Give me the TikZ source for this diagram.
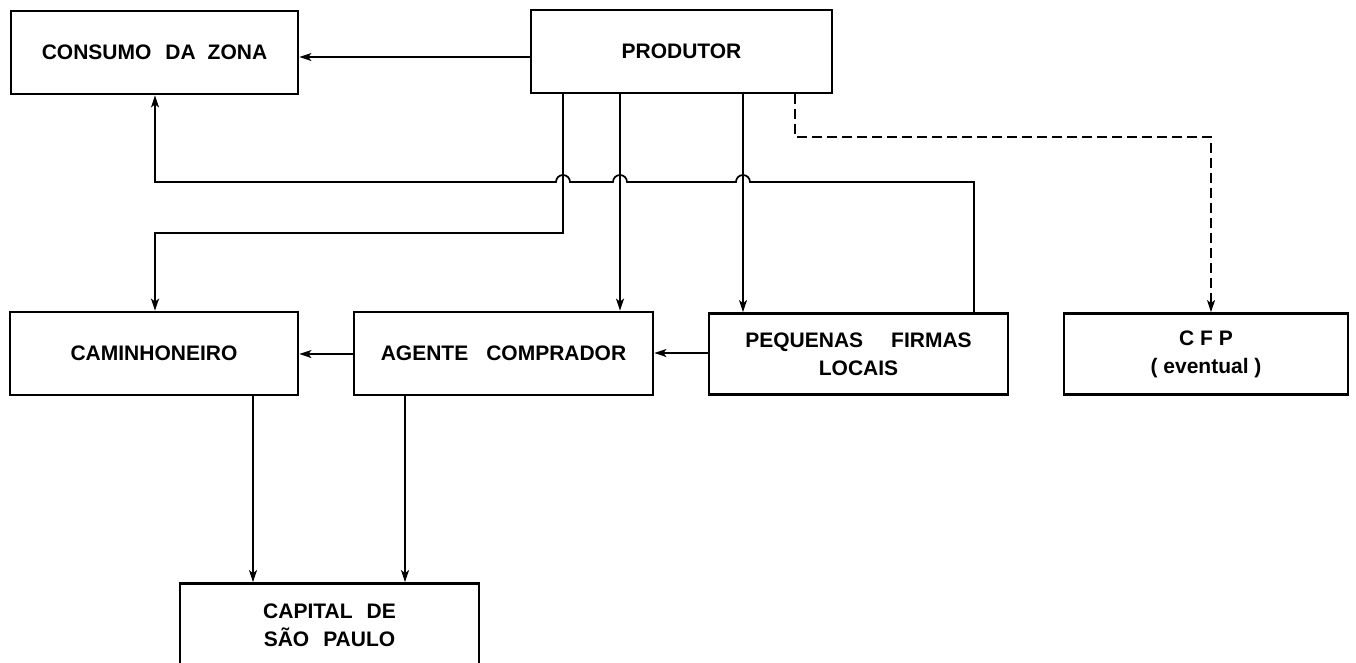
\documentclass[tikz,border=0pt]{standalone}
\usepackage{fontspec}
\setmainfont{Liberation Sans}
\usetikzlibrary{arrows.meta,calc}
\begin{document}
\begin{tikzpicture}[x=1pt,y=1pt,
  box/.style={draw, line width=2.8pt, minimum height=83pt, inner sep=0pt,
    font=\fontsize{21}{28}\selectfont\bfseries, align=center},
  conn/.style={line width=1.7pt, -{Stealth[length=12pt,width=8pt,inset=3pt]}},
  dashline/.style={dash pattern=on 10pt off 5pt},
]
\useasboundingbox (0,0) rectangle (1356,-662);
\node[box, minimum width=287pt] (cons) at (154.5,-52.5) {CONSUMO\hspace{14pt}DA\hspace{12pt}ZONA};
\node[box, minimum width=301pt] (prod) at (681.5,-51.5) {PRODUTOR};
\node[box, minimum width=288pt] (cam) at (154,-353.5) {CAMINHONEIRO};
\node[box, minimum width=299pt] (ag) at (503.5,-353.5) {AGENTE\hspace{18pt}COMPRADOR};
\node[box, minimum width=299pt, minimum height=81pt] (pfl) at (858.5,-354) {PEQUENAS\hspace{28pt}FIRMAS\\LOCAIS};
\node[box, minimum width=284pt, minimum height=81pt] (cfp) at (1206,-354) {C F P\\( eventual )};
\node[box, minimum width=299pt] (cap) at (329.5,-625) {CAPITAL\hspace{14pt}DE\\SÃO\hspace{14pt}PAULO};

% produtor -> consumo
\draw[conn] (prod.west |- 0,-57) -- (cons.east |- 0,-57);
% pequenas firmas -> consumo (return line with hops)
\draw[conn] (974,0 |- pfl.north) -- (974,-182) -- (750,-182)
  arc[start angle=0,end angle=180,radius=7] -- (627,-182)
  arc[start angle=0,end angle=180,radius=7] -- (570,-182)
  arc[start angle=0,end angle=180,radius=7] -- (155,-182)
  -- (155,0 |- cons.south);
% produtor -> caminhoneiro
\draw[conn] (563,0 |- prod.south) -- (563,-233) -- (155,-233) -- (155,0 |- cam.north);
% produtor -> agente
\draw[conn] (620,0 |- prod.south) -- (620,0 |- ag.north);
% produtor -> pequenas firmas
\draw[conn] (743,0 |- prod.south) -- (743,0 |- pfl.north);
% produtor -> cfp (dashed)
\draw[conn,dashline] (795,0 |- prod.south) -- (795,-137) -- (1211,-137) -- (1211,0 |- cfp.north);
% agente -> caminhoneiro
\draw[conn] (ag.west |- 0,-354) -- (cam.east |- 0,-354);
% pequenas -> agente
\draw[conn] (pfl.west |- 0,-353) -- (ag.east |- 0,-353);
% to capital
\draw[conn] (253,0 |- cam.south) -- (253,0 |- cap.north);
\draw[conn] (405,0 |- ag.south) -- (405,0 |- cap.north);
\end{tikzpicture}
\end{document}
